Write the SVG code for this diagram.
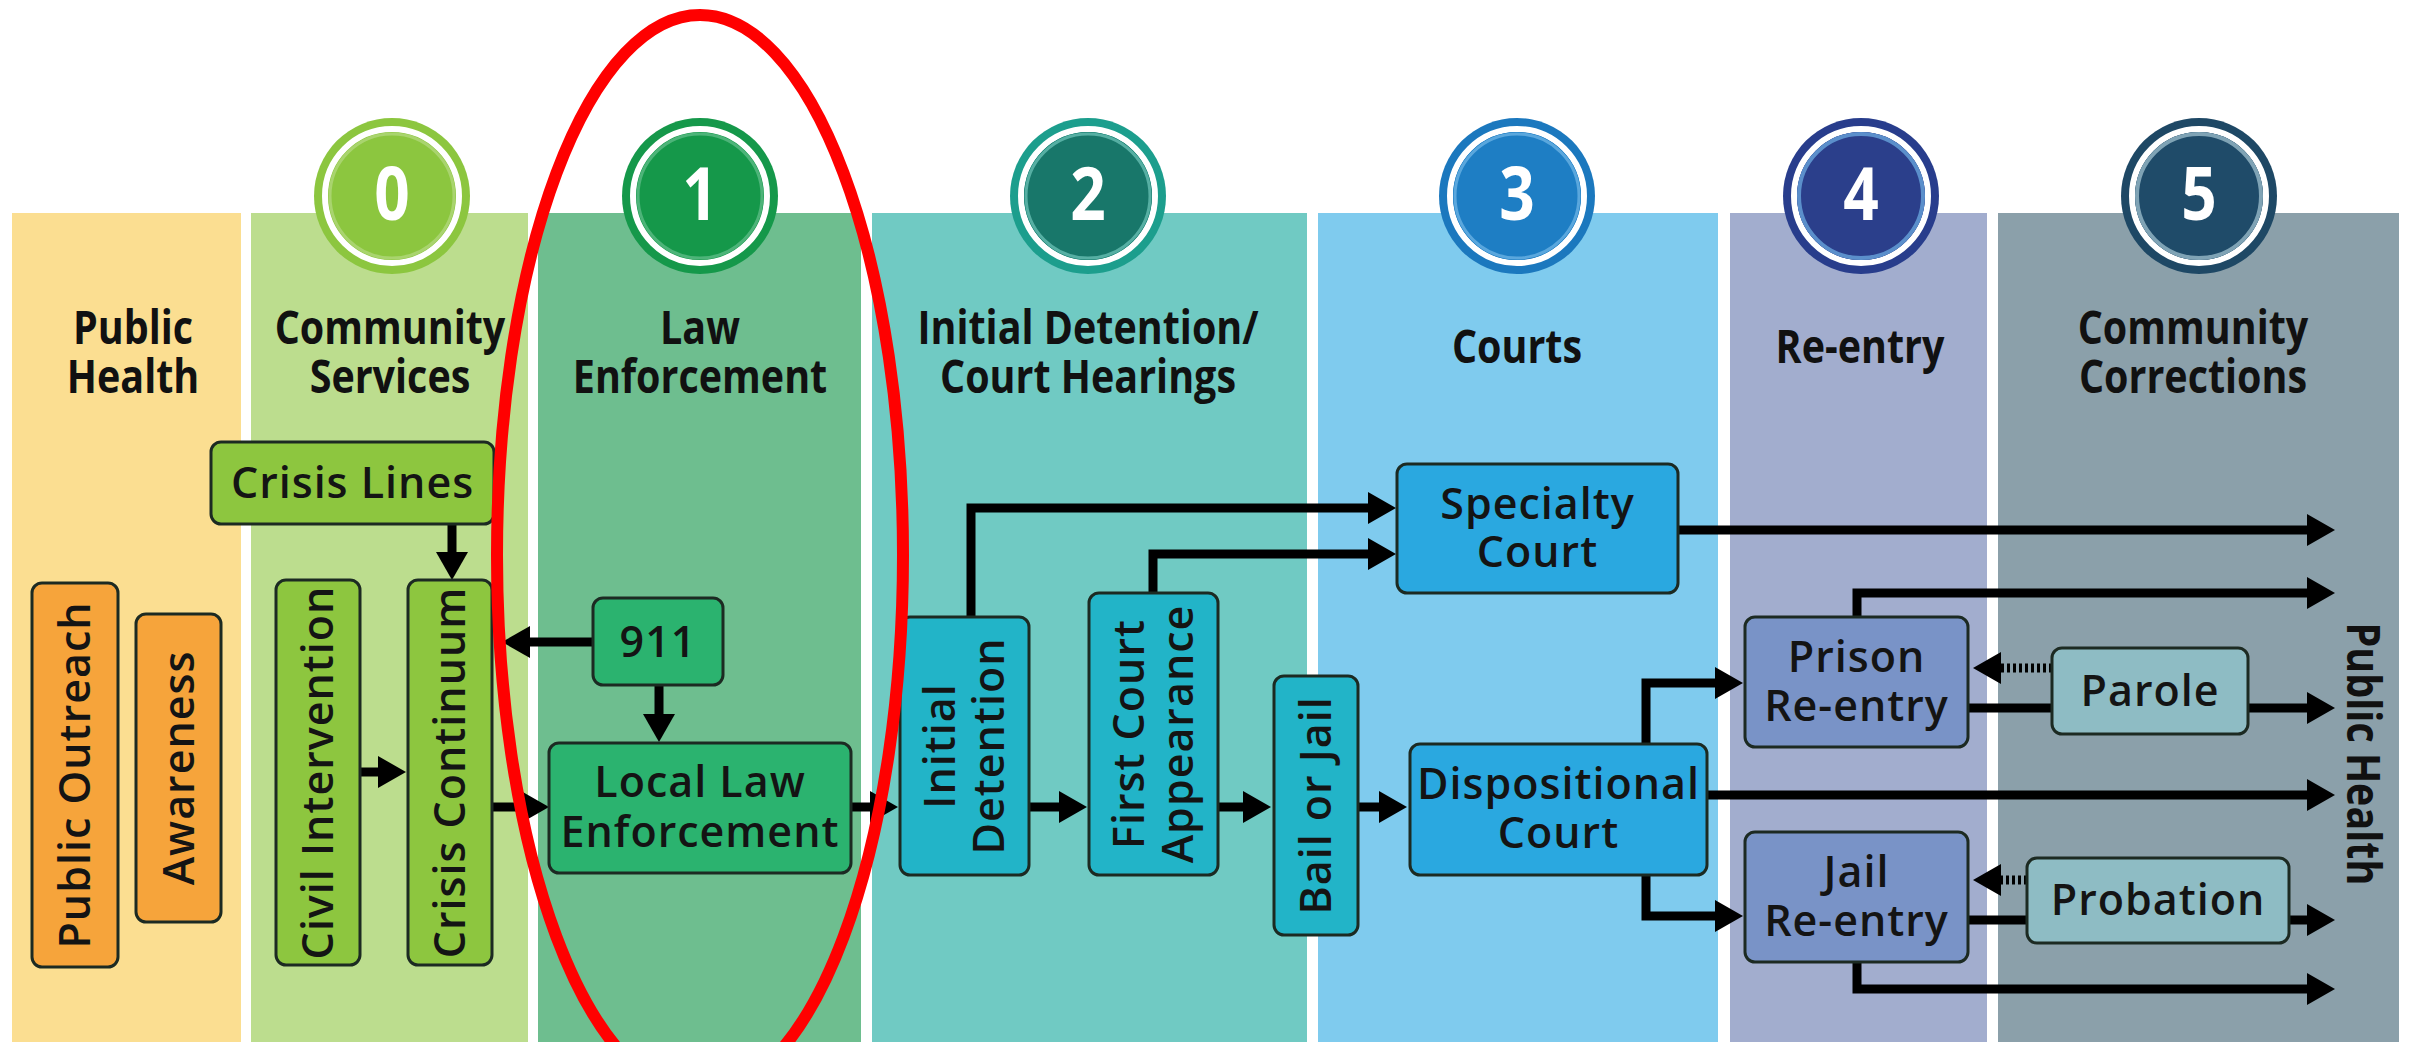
<svg xmlns="http://www.w3.org/2000/svg" width="2412" height="1042" viewBox="0 0 2412 1042">
<defs>
<style>
.hdr{font-family:"Open Sans","Liberation Sans",sans-serif;font-weight:700;font-size:47px;fill:#111;text-anchor:middle}
.dig{font-family:"Open Sans","Liberation Sans",sans-serif;font-weight:700;font-size:74px;fill:#fff;text-anchor:middle}
.nt{font-family:"Open Sans","Liberation Sans",sans-serif;font-weight:600;font-size:43px;letter-spacing:1px;fill:#141414;text-anchor:middle}
.box{stroke:#1c2a22;stroke-width:3}
.ln{fill:none;stroke:#000;stroke-width:9}
.arr{marker-end:url(#ah)}
.dot{stroke-dasharray:3 3}
.wring{fill:none;stroke:#fff;stroke-width:6}
</style>
<marker id="ah" markerUnits="userSpaceOnUse" markerWidth="30" markerHeight="34" refX="2" refY="16" orient="auto">
<path d="M0,0 L28,16 L0,32 Z" fill="#000"/>
</marker>
</defs>
<rect width="2412" height="1042" fill="#fff"/>

<g id="columns">
<rect x="12" y="213" width="229" height="829" fill="#FBDE91"/>
<rect x="251" y="213" width="277" height="829" fill="#BCDD8E"/>
<rect x="538" y="213" width="323" height="829" fill="#6EBE8F"/>
<rect x="872" y="213" width="435" height="829" fill="#70CAC3"/>
<rect x="1318" y="213" width="400" height="829" fill="#7FCBEE"/>
<rect x="1730" y="213" width="257" height="829" fill="#A2ADCE"/>
<rect x="1998" y="213" width="401" height="829" fill="#8BA0AA"/>
</g>

<g id="badges">
<g id="badge0"><circle cx="392" cy="196" r="78" fill="#8CC63F"/><circle cx="392" cy="196" r="67" class="wring"/><circle cx="392" cy="196" r="62" fill="none" stroke="#A9D46E" stroke-width="3"/><text class="dig" transform="translate(392,220) scale(0.84,1)">0</text></g>
<g id="badge1"><circle cx="700" cy="196" r="78" fill="#15984A"/><circle cx="700" cy="196" r="67" class="wring"/><circle cx="700" cy="196" r="62" fill="none" stroke="#4DB479" stroke-width="3"/><text class="dig" transform="translate(700,220) scale(0.84,1)">1</text></g>
<g id="badge2"><circle cx="1088" cy="196" r="78" fill="#1C9E8D"/><circle cx="1088" cy="196" r="67" class="wring"/><circle cx="1088" cy="196" r="64" fill="#18776A"/><circle cx="1088" cy="196" r="62" fill="none" stroke="#56AFA3" stroke-width="3"/><text class="dig" transform="translate(1088,220) scale(0.84,1)">2</text></g>
<g id="badge3"><circle cx="1517" cy="196" r="78" fill="#1B78BE"/><circle cx="1517" cy="196" r="67" class="wring"/><circle cx="1517" cy="196" r="64" fill="#1E7EC4"/><circle cx="1517" cy="196" r="62" fill="none" stroke="#5AA7DD" stroke-width="3"/><text class="dig" transform="translate(1517,220) scale(0.84,1)">3</text></g>
<g id="badge4"><circle cx="1861" cy="196" r="78" fill="#283D8C"/><circle cx="1861" cy="196" r="67" class="wring"/><circle cx="1861" cy="196" r="64" fill="#2B3F8B"/><circle cx="1861" cy="196" r="62" fill="none" stroke="#5B8FCB" stroke-width="4"/><text class="dig" transform="translate(1861,220) scale(0.84,1)">4</text></g>
<g id="badge5"><circle cx="2199" cy="196" r="78" fill="#1E4865"/><circle cx="2199" cy="196" r="67" class="wring"/><circle cx="2199" cy="196" r="64" fill="#1F4B69"/><circle cx="2199" cy="196" r="62" fill="none" stroke="#7FA3B5" stroke-width="4"/><text class="dig" transform="translate(2199,220) scale(0.84,1)">5</text></g>
</g>

<g id="headers">
<text class="hdr" transform="translate(133,344) scale(0.84,1)"><tspan x="0" y="0">Public</tspan><tspan x="0" y="49">Health</tspan></text>
<text class="hdr" transform="translate(390,344) scale(0.84,1)"><tspan x="0" y="0">Community</tspan><tspan x="0" y="49">Services</tspan></text>
<text class="hdr" transform="translate(700,344) scale(0.84,1)"><tspan x="0" y="0">Law</tspan><tspan x="0" y="49">Enforcement</tspan></text>
<text class="hdr" transform="translate(1088,344) scale(0.84,1)"><tspan x="0" y="0">Initial Detention/</tspan><tspan x="0" y="49">Court Hearings</tspan></text>
<text class="hdr" transform="translate(1517,363) scale(0.84,1)">Courts</text>
<text class="hdr" transform="translate(1860,363) scale(0.84,1)">Re-entry</text>
<text class="hdr" transform="translate(2193,344) scale(0.84,1)"><tspan x="0" y="0">Community</tspan><tspan x="0" y="49">Corrections</tspan></text>
<text class="hdr" transform="translate(2347,754) rotate(90) scale(0.84,1)">Public Health</text>
</g>

<g id="connectors">
<path class="ln arr" d="M452 524 V554"/>
<path class="ln arr" d="M360 772 H380"/>
<path class="ln arr" d="M593 642 H528"/>
<path class="ln arr" d="M659 685 V716"/>
<path class="ln arr" d="M492 807 H523"/>
<path class="ln arr" d="M851 807 H872"/>
<path class="ln arr" d="M1029 807 H1061"/>
<path class="ln arr" d="M1218 807 H1245"/>
<path class="ln arr" d="M1358 807 H1381"/>
<path class="ln arr" d="M971 617 V508 H1370"/>
<path class="ln arr" d="M1153 593 V554 H1370"/>
<path class="ln arr" d="M1678 530 H2309"/>
<path class="ln arr" d="M1646 744 V683 H1717"/>
<path class="ln arr" d="M1646 875 V916 H1717"/>
<path class="ln arr" d="M1707 795 H2309"/>
<path class="ln arr" d="M1857 617 V593 H2309"/>
<path class="ln arr dot" d="M2052 668 H1999"/>
<path class="ln" d="M1968 708 H2052"/>
<path class="ln arr" d="M2248 708 H2309"/>
<path class="ln arr dot" d="M2027 880 H1999"/>
<path class="ln" d="M1968 920 H2027"/>
<path class="ln arr" d="M2289 920 H2309"/>
<path class="ln arr" d="M1857 962 V989 H2309"/>
</g>

<g id="n-crisis-lines"><rect class="box" x="211" y="442" width="283" height="82" rx="10" fill="#8DC63F"/><text class="nt" x="352.5" y="498">Crisis Lines</text></g>
<g id="n-public-outreach"><rect class="box" x="32" y="583" width="86" height="384" rx="10" fill="#F6A43B"/><text class="nt" transform="translate(75,775) rotate(-90)" y="15">Public Outreach</text></g>
<g id="n-awareness"><rect class="box" x="136" y="614" width="85" height="308" rx="10" fill="#F6A43B"/><text class="nt" transform="translate(178.5,768) rotate(-90)" y="15">Awareness</text></g>
<g id="n-civil"><rect class="box" x="276" y="580" width="84" height="385" rx="10" fill="#8DC63F"/><text class="nt" transform="translate(318,772.5) rotate(-90)" y="15">Civil Intervention</text></g>
<g id="n-crisis-continuum"><rect class="box" x="408" y="580" width="84" height="385" rx="10" fill="#8DC63F"/><text class="nt" transform="translate(450,772.5) rotate(-90)" y="15">Crisis Continuum</text></g>
<g id="n-911"><rect class="box" x="593" y="598" width="130" height="87" rx="10" fill="#2BB36F"/><text class="nt" x="658" y="657">911</text></g>
<g id="n-local-law"><rect class="box" x="549" y="743" width="302" height="130" rx="10" fill="#2BB36F"/><text class="nt"><tspan x="700" y="797">Local Law</tspan><tspan x="700" y="847">Enforcement</tspan></text></g>
<g id="n-initial-detention"><rect class="box" x="900" y="617" width="129" height="258" rx="10" fill="#22B4C8"/><text class="nt" transform="translate(964.5,746) rotate(-90)"><tspan x="0" y="-9.5">Initial</tspan><tspan x="0" y="39.5">Detention</tspan></text></g>
<g id="n-first-court"><rect class="box" x="1089" y="593" width="129" height="282" rx="10" fill="#22B4C8"/><text class="nt" transform="translate(1153.5,734) rotate(-90)"><tspan x="0" y="-9.5">First Court</tspan><tspan x="0" y="39.5">Appearance</tspan></text></g>
<g id="n-bail"><rect class="box" x="1274" y="676" width="84" height="259" rx="10" fill="#22B4C8"/><text class="nt" transform="translate(1316,805.5) rotate(-90)" y="15">Bail or Jail</text></g>
<g id="n-specialty"><rect class="box" x="1397" y="464" width="281" height="129" rx="10" fill="#2AA8E0"/><text class="nt"><tspan x="1537.5" y="519">Specialty</tspan><tspan x="1537.5" y="567">Court</tspan></text></g>
<g id="n-dispositional"><rect class="box" x="1410" y="744" width="297" height="131" rx="10" fill="#2AA8E0"/><text class="nt"><tspan x="1558.5" y="799">Dispositional</tspan><tspan x="1558.5" y="848">Court</tspan></text></g>
<g id="n-prison"><rect class="box" x="1745" y="617" width="223" height="130" rx="10" fill="#7993C7"/><text class="nt"><tspan x="1856.5" y="672">Prison</tspan><tspan x="1856.5" y="721">Re-entry</tspan></text></g>
<g id="n-jail"><rect class="box" x="1745" y="832" width="223" height="130" rx="10" fill="#7993C7"/><text class="nt"><tspan x="1856.5" y="887">Jail</tspan><tspan x="1856.5" y="936">Re-entry</tspan></text></g>
<g id="n-parole"><rect class="box" x="2052" y="648" width="196" height="86" rx="10" fill="#8EBCC4"/><text class="nt" x="2150" y="706">Parole</text></g>
<g id="n-probation"><rect class="box" x="2027" y="858" width="262" height="85" rx="10" fill="#8EBCC4"/><text class="nt" x="2158" y="915">Probation</text></g>

<g id="highlight">
<ellipse cx="700" cy="555" rx="203" ry="540" fill="none" stroke="#FF0000" stroke-width="12"/>
</g>
</svg>
